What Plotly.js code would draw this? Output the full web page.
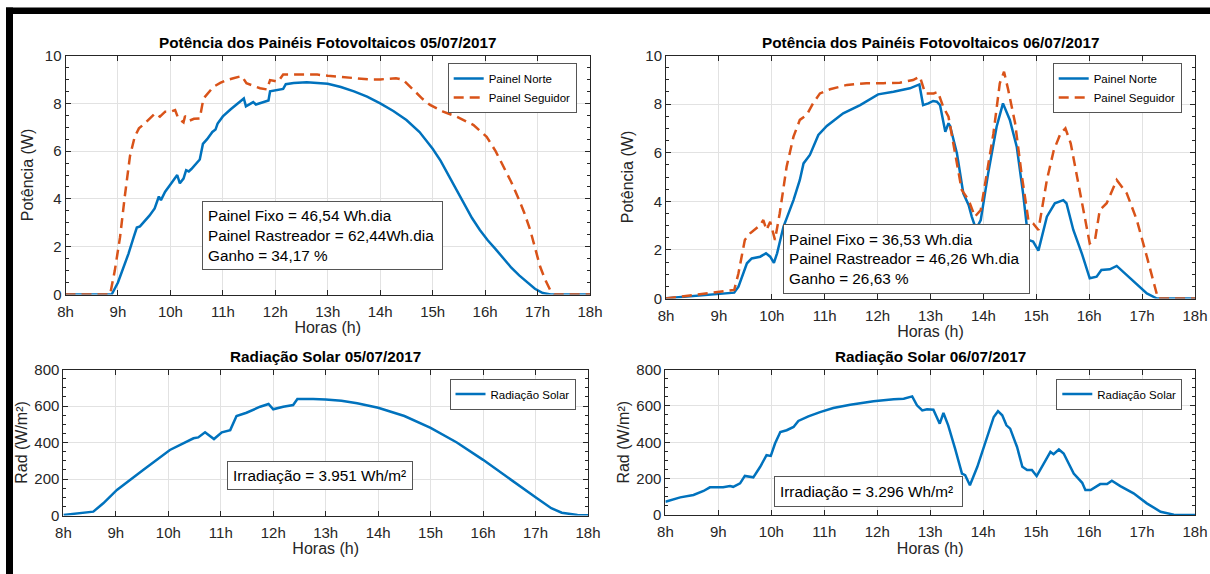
<!DOCTYPE html>
<html>
<head>
<meta charset="utf-8">
<script src="https://cdn.plot.ly/plotly-3.0.1.min.js"></script>
<style>
html,body{margin:0;padding:0;background:#ffffff;overflow:hidden;}
#chart{width:1210px;height:574px;}
</style>
</head>
<body>
<div id="chart"></div>
<script>
// ---------------- DATA ----------------
const hourTicks = [8, 9, 10, 11, 12, 13, 14, 15, 16, 17, 18];
const hourLabels = ['8h', '9h', '10h', '11h', '12h', '13h', '14h', '15h', '16h', '17h', '18h'];

const powerTitle1 = 'Potência dos Painéis Fotovoltaicos 05/07/2017';
const powerTitle2 = 'Potência dos Painéis Fotovoltaicos 06/07/2017';
const radTitle1 = 'Radiação Solar 05/07/2017';
const radTitle2 = 'Radiação Solar 06/07/2017';
const seriesNames = ['Painel Norte', 'Painel Seguidor', 'Radiação Solar'];

// Day 1 (05/07/2017) – Painel Norte
const d1NorteH = [8.0, 8.88, 9.0, 9.1, 9.2, 9.3, 9.36, 9.42, 9.5, 9.6, 9.7, 9.78, 9.82, 9.9, 10.0, 10.1, 10.13, 10.18, 10.25, 10.3, 10.35, 10.4, 10.5, 10.56, 10.62, 10.7, 10.8, 10.86, 10.9, 11.0, 11.15, 11.3, 11.4, 11.44, 11.5, 11.58, 11.63, 11.75, 11.87, 11.9, 12.05, 12.15, 12.2, 12.35, 12.6, 12.9, 13.0, 13.25, 13.5, 13.75, 14.0, 14.25, 14.5, 14.75, 15.0, 15.15, 15.3, 15.45, 15.6, 15.75, 15.9, 16.05, 16.2, 16.35, 16.5, 16.65, 16.8, 16.95, 17.1, 17.25, 18.0];
const d1NorteW = [0, 0, 0.5, 1.1, 1.7, 2.4, 2.8, 2.85, 3.05, 3.3, 3.6, 4.1, 3.95, 4.3, 4.6, 4.95, 5.0, 4.65, 4.85, 5.2, 5.15, 5.25, 5.5, 5.65, 6.3, 6.5, 6.8, 6.9, 7.15, 7.45, 7.75, 8.0, 8.2, 7.87, 7.95, 8.05, 7.95, 8.05, 8.12, 8.5, 8.55, 8.6, 8.8, 8.85, 8.88, 8.85, 8.82, 8.68, 8.5, 8.28, 8.0, 7.68, 7.3, 6.8, 6.1, 5.6, 5.0, 4.4, 3.78, 3.2, 2.7, 2.27, 1.9, 1.5, 1.12, 0.8, 0.5, 0.24, 0.06, 0, 0];

// Day 1 – Painel Seguidor
const d1SeguidorH = [8.0, 8.85, 8.94, 9.04, 9.13, 9.23, 9.32, 9.4, 9.48, 9.6, 9.71, 9.8, 9.9, 10.0, 10.09, 10.15, 10.25, 10.28, 10.37, 10.45, 10.56, 10.63, 10.72, 10.82, 10.95, 11.07, 11.2, 11.36, 11.45, 11.6, 11.71, 11.84, 11.9, 11.99, 12.05, 12.15, 12.5, 12.8, 13.0, 13.4, 13.8, 14.0, 14.3, 14.44, 14.63, 14.8, 14.95, 15.2, 15.46, 15.6, 15.78, 15.9, 16.03, 16.2, 16.35, 16.5, 16.65, 16.75, 16.86, 16.95, 17.05, 17.15, 17.24, 17.32, 18.0];
const d1SeguidorW = [0, 0, 1.0, 2.4, 4.1, 5.8, 6.6, 6.95, 7.1, 7.35, 7.58, 7.44, 7.65, 7.65, 7.72, 7.37, 7.2, 7.47, 7.28, 7.35, 7.37, 8.2, 8.45, 8.69, 8.85, 8.97, 9.05, 9.14, 8.84, 8.72, 8.63, 8.58, 8.97, 8.93, 8.9, 9.2, 9.2, 9.2, 9.15, 9.06, 9.0, 9.0, 9.05, 8.98, 8.56, 8.2, 7.93, 7.65, 7.44, 7.3, 7.09, 6.85, 6.6, 6.0, 5.35, 4.7, 3.95, 3.4, 2.7, 2.0, 1.16, 0.6, 0.19, 0, 0];

// Day 2 (06/07/2017) – Painel Norte
const d2NorteH = [8.0, 8.52, 8.99, 9.29, 9.37, 9.53, 9.62, 9.78, 9.89, 9.97, 10.04, 10.1, 10.22, 10.41, 10.53, 10.6, 10.72, 10.88, 11.04, 11.35, 11.67, 12.01, 12.3, 12.61, 12.79, 12.86, 12.96, 13.05, 13.12, 13.18, 13.28, 13.34, 13.37, 13.5, 13.62, 13.72, 13.78, 13.86, 13.95, 14.09, 14.25, 14.37, 14.5, 14.63, 14.75, 14.85, 14.94, 15.04, 15.2, 15.35, 15.51, 15.57, 15.7, 15.86, 16.01, 16.14, 16.23, 16.39, 16.52, 16.64, 16.83, 17.09, 17.28, 18.0];
const d2NorteW = [0.01, 0.1, 0.17, 0.24, 0.49, 1.45, 1.65, 1.72, 1.86, 1.72, 1.47, 1.86, 2.95, 4.05, 4.88, 5.56, 5.91, 6.73, 7.1, 7.62, 7.96, 8.4, 8.51, 8.65, 8.81, 7.96, 8.03, 8.13, 8.1, 7.96, 6.86, 7.21, 7.1, 5.97, 4.33, 3.85, 3.37, 2.85, 3.23, 5.15, 7.07, 8.03, 7.35, 6.25, 4.33, 2.41, 2.34, 1.97, 3.37, 3.92, 4.05, 3.92, 2.82, 1.86, 0.83, 0.9, 1.17, 1.2, 1.34, 1.1, 0.76, 0.21, 0, 0];

// Day 2 – Painel Seguidor
const d2SeguidorH = [8.0, 8.52, 9.02, 9.29, 9.37, 9.49, 9.59, 9.78, 9.84, 9.9, 9.97, 10.06, 10.15, 10.28, 10.41, 10.53, 10.66, 10.78, 10.91, 11.1, 11.42, 11.79, 12.11, 12.42, 12.67, 12.8, 12.9, 13.06, 13.14, 13.24, 13.34, 13.47, 13.59, 13.72, 13.84, 13.95, 14.03, 14.19, 14.31, 14.39, 14.47, 14.6, 14.72, 14.85, 14.94, 15.04, 15.2, 15.33, 15.46, 15.55, 15.65, 15.78, 15.9, 16.01, 16.11, 16.2, 16.33, 16.52, 16.71, 16.9, 17.09, 17.25, 17.3, 18.0];
const d2SeguidorW = [0, 0.14, 0.28, 0.35, 1.04, 2.41, 2.68, 3.02, 3.23, 2.82, 3.16, 2.41, 3.51, 5.42, 6.66, 7.35, 7.55, 8.03, 8.44, 8.61, 8.79, 8.86, 8.86, 8.88, 8.99, 9.13, 8.44, 8.44, 8.5, 7.89, 7.48, 5.97, 4.47, 4.05, 3.37, 3.64, 4.74, 6.8, 8.86, 9.33, 8.58, 7.21, 5.15, 3.23, 3.09, 2.82, 4.88, 6.1, 6.8, 7.0, 6.39, 4.88, 3.51, 2.27, 2.41, 3.64, 3.92, 4.88, 4.33, 3.23, 1.72, 0.49, 0, 0];

// Day 1 – Radiação Solar (W/m²)
const d1RadH = [8.0, 8.57, 8.76, 9.02, 9.52, 10.03, 10.48, 10.57, 10.7, 10.87, 11.02, 11.18, 11.3, 11.49, 11.75, 11.91, 12.0, 12.19, 12.38, 12.46, 12.76, 13.0, 13.3, 13.6, 14.0, 14.5, 15.0, 15.5, 16.0, 16.5, 17.0, 17.3, 17.5, 17.8, 18.0];
const d1RadV = [3, 21, 67, 140, 249, 359, 423, 428, 456, 419, 456, 468, 545, 563, 596, 611, 582, 596, 605, 638, 638, 636, 629, 615, 590, 545, 480, 400, 305, 200, 100, 40, 15, 3, 2];

// Day 2 – Radiação Solar (W/m²)
const d2RadH = [8.0, 8.28, 8.53, 8.72, 8.84, 9.09, 9.22, 9.28, 9.41, 9.5, 9.66, 9.79, 9.91, 9.99, 10.07, 10.17, 10.29, 10.42, 10.51, 10.7, 10.92, 11.17, 11.49, 11.93, 12.31, 12.5, 12.66, 12.75, 12.85, 12.94, 13.06, 13.18, 13.25, 13.34, 13.47, 13.6, 13.66, 13.75, 13.89, 14.07, 14.2, 14.28, 14.36, 14.44, 14.51, 14.64, 14.74, 14.83, 14.92, 15.01, 15.15, 15.27, 15.33, 15.43, 15.52, 15.71, 15.87, 15.93, 16.03, 16.21, 16.34, 16.43, 16.59, 16.84, 17.09, 17.35, 17.6, 18.0];
const d2RadV = [73, 97, 110, 132, 152, 152, 159, 155, 174, 215, 207, 265, 329, 325, 393, 456, 466, 484, 517, 542, 566, 588, 606, 626, 637, 639, 652, 603, 575, 581, 579, 502, 561, 493, 365, 228, 219, 164, 265, 429, 539, 571, 548, 493, 475, 374, 265, 247, 247, 214, 283, 347, 334, 360, 338, 228, 177, 137, 137, 170, 170, 188, 159, 119, 64, 18, 2, 0];

const boxTexts = [
  'Painel Fixo = 46,54 Wh.dia<br>Painel Rastreador = 62,44Wh.dia<br>Ganho = 34,17 %',
  'Painel Fixo = 36,53 Wh.dia<br>Painel Rastreador = 46,26 Wh.dia<br>Ganho = 26,63 %',
  'Irradiação = 3.951 Wh/m²',
  'Irradiação = 3.296 Wh/m²'
];

// ---------------- LAYOUT ----------------
const W = 1210, H = 574;
const FONT = 'Liberation Sans, Arial, Helvetica, sans-serif';
const TXT = '#262626';
const BLUE = '#0072BD', ORANGE = '#D95319';
const px = (a, b) => [a / W, b / W];
const py = (top, bottom) => [1 - bottom / H, 1 - top / H];

function xAx(domain, anchor) {
  return {
    domain: domain, anchor: anchor, range: [8, 18],
    tickmode: 'array', tickvals: hourTicks, ticktext: hourLabels,
    showline: true, linecolor: TXT, linewidth: 1, mirror: 'allticks',
    ticks: 'inside', ticklen: 5, tickcolor: TXT, tickwidth: 1,
    ticklabelstandoff: 3,
    showgrid: true, gridcolor: '#e2e2e2', gridwidth: 1, zeroline: false,
    tickfont: {family: FONT, size: 15, color: TXT},
    title: {text: 'Horas (h)', font: {family: FONT, size: 16, color: TXT}, standoff: 2},
    fixedrange: true
  };
}
function yAx(domain, anchor, range, dtick, minor, label, standoff) {
  return {
    domain: domain, anchor: anchor, range: range, dtick: dtick, tick0: 0,
    showline: true, linecolor: TXT, linewidth: 1, mirror: 'allticks',
    ticks: 'inside', ticklen: 5, tickcolor: TXT, tickwidth: 1,
    minor: {dtick: minor, ticks: 'inside', ticklen: 3, tickcolor: TXT, showgrid: false},
    showgrid: true, gridcolor: '#e2e2e2', gridwidth: 1, zeroline: false,
    tickfont: {family: FONT, size: 15, color: TXT},
    title: {text: label, font: {family: FONT, size: 16, color: TXT}, standoff: standoff},
    fixedrange: true
  };
}
function leg(xr, yt) {
  return {
    x: xr / W, y: 1 - yt / H, xanchor: 'right', yanchor: 'top',
    bgcolor: '#ffffff', bordercolor: '#555555', borderwidth: 1,
    font: {family: FONT, size: 11.5, color: '#000000'},
    itemwidth: 30, tracegroupgap: 0
  };
}
function box(text, left, top, w, h) {
  return {
    xref: 'paper', yref: 'paper', x: left / W, y: 1 - top / H,
    xanchor: 'left', yanchor: 'top', text: text, showarrow: false,
    align: 'left', valign: 'middle', width: w, height: h,
    bgcolor: '#ffffff', bordercolor: '#555555', borderwidth: 1, borderpad: 5,
    font: {family: FONT, size: 15.3, color: '#000000'}
  };
}
function title(text, cx, cy) {
  return {
    xref: 'paper', yref: 'paper', x: cx / W, y: 1 - cy / H,
    xanchor: 'center', yanchor: 'middle', text: '<b>' + text + '</b>', showarrow: false,
    font: {family: FONT, size: 15.3, color: '#000000'}
  };
}

const solid = c => ({color: c, width: 2.5});
const dashed = c => ({color: c, width: 2.5, dash: '10px,6px'});

const traces = [
  {x: d1NorteH, y: d1NorteW, name: seriesNames[0], type: 'scatter', mode: 'lines', line: solid(BLUE), xaxis: 'x', yaxis: 'y', legend: 'legend'},
  {x: d1SeguidorH, y: d1SeguidorW, name: seriesNames[1], type: 'scatter', mode: 'lines', line: dashed(ORANGE), xaxis: 'x', yaxis: 'y', legend: 'legend'},
  {x: d2NorteH, y: d2NorteW, name: seriesNames[0], type: 'scatter', mode: 'lines', line: solid(BLUE), xaxis: 'x2', yaxis: 'y2', legend: 'legend2'},
  {x: d2SeguidorH, y: d2SeguidorW, name: seriesNames[1], type: 'scatter', mode: 'lines', line: dashed(ORANGE), xaxis: 'x2', yaxis: 'y2', legend: 'legend2'},
  {x: d1RadH, y: d1RadV, name: seriesNames[2], type: 'scatter', mode: 'lines', line: solid(BLUE), xaxis: 'x3', yaxis: 'y3', legend: 'legend3'},
  {x: d2RadH, y: d2RadV, name: seriesNames[2], type: 'scatter', mode: 'lines', line: solid(BLUE), xaxis: 'x4', yaxis: 'y4', legend: 'legend4'}
];

const layout = {
  width: W, height: H,
  margin: {l: 0, r: 0, t: 0, b: 0, pad: 0},
  paper_bgcolor: '#ffffff', plot_bgcolor: '#ffffff',
  font: {family: FONT, color: TXT},
  showlegend: true, hovermode: false,
  xaxis: xAx(px(65.5, 590), 'y'),
  yaxis: yAx(py(55.5, 294.5), 'x', [0, 10], 2, 0.5, 'Potência (W)', 7),
  xaxis2: xAx(px(666, 1195), 'y2'),
  yaxis2: yAx(py(55.5, 298.5), 'x2', [0, 10], 2, 0.5, 'Potência (W)', 7),
  xaxis3: xAx(px(63.4, 588), 'y3'),
  yaxis3: yAx(py(369.5, 515.5), 'x3', [0, 800], 200, 50, 'Rad (W/m²)', 2),
  xaxis4: xAx(px(665.4, 1195), 'y4'),
  yaxis4: yAx(py(369.5, 515), 'x4', [0, 800], 200, 50, 'Rad (W/m²)', 2),
  legend: leg(576.7, 63),
  legend2: leg(1181.7, 63),
  legend3: leg(575.5, 378.5),
  legend4: leg(1182.3, 378.5),
  annotations: [
    title(powerTitle1, 327.8, 43),
    title(powerTitle2, 930.5, 43),
    title(radTitle1, 325.7, 356),
    title(radTitle2, 930.2, 356),
    box(boxTexts[0], 201.7, 201, 229, 57),
    box(boxTexts[1], 783.3, 224.3, 235, 58),
    box(boxTexts[2], 227.3, 461, 174, 17),
    box(boxTexts[3], 774.3, 476, 177, 19)
  ],
  shapes: [
    {type: 'rect', xref: 'paper', yref: 'paper', x0: 6 / W, x1: 1, y0: 1 - 14 / H, y1: 1 - 7.5 / H, fillcolor: '#000000', line: {width: 0}, layer: 'above'},
    {type: 'rect', xref: 'paper', yref: 'paper', x0: 6 / W, x1: 13 / W, y0: 0, y1: 1 - 7.5 / H, fillcolor: '#000000', line: {width: 0}, layer: 'above'}
  ]
};

Plotly.newPlot('chart', traces, layout, {staticPlot: true, displayModeBar: false});
</script>
</body>
</html>
